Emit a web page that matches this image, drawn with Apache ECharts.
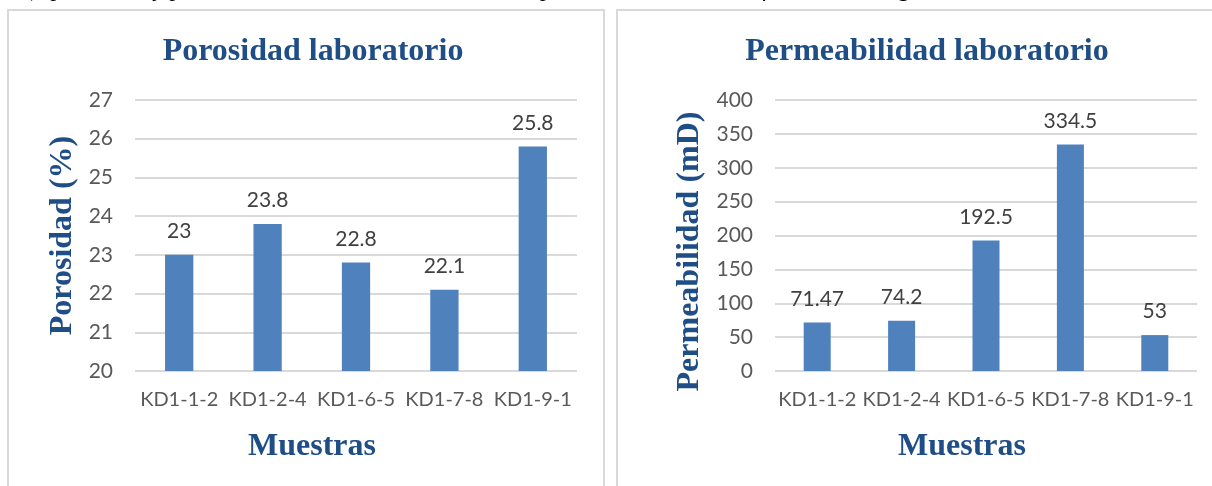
<!DOCTYPE html>
<html>
<head>
<meta charset="utf-8">
<script src="https://cdn.jsdelivr.net/npm/echarts@6/dist/echarts.min.js"></script>
<style>
html,body{margin:0;padding:0;background:#fff;}
#c{width:1212px;height:486px;}
</style>
</head>
<body>
<div id="c"></div>
<script>
const categories = ['KD1-1-2', 'KD1-2-4', 'KD1-6-5', 'KD1-7-8', 'KD1-9-1'];
const porosidad = [23, 23.8, 22.8, 22.1, 25.8];
const permeabilidad = [71.47, 74.2, 192.5, 334.5, 53];
const porosidadTitle = 'Porosidad laboratorio';
const permeabilidadTitle = 'Permeabilidad laboratorio';
const porosidadAxisName = 'Porosidad (%)';
const permeabilidadAxisName = 'Permeabilidad (mD)';
const xAxisName = 'Muestras';
const captionFragment = 'a), porosidad y permeabilidad de las muestras con respecto a los datos de la formación Magrosa.';

const navy = '#1F4E87';
const serif = '"Liberation Serif","Times New Roman",serif';
const sans = 'Lato, "Open Sans", sans-serif';
const barColor = '#4F81BD';

const chart = echarts.init(document.getElementById('c'), null, {renderer: 'canvas'});

function xAx(gi, nameShift) {
  return {
    type: 'category', gridIndex: gi, data: categories,
    axisLine: {show: false}, axisTick: {show: false},
    axisLabel: {color: '#595959', fontFamily: sans, fontSize: 20, margin: 19, interval: 0},
    name: xAxisName, nameLocation: 'middle', nameGap: 60,
    nameTextStyle: {color: navy, fontFamily: serif, fontWeight: 'bold', fontSize: 32,
      padding: [0, nameShift * 2, 0, 0]}
  };
}
function yAx(gi, min, max, interval, name, gap, shiftDown) {
  return {
    type: 'value', gridIndex: gi, min: min, max: max, interval: interval,
    axisLine: {show: false}, axisTick: {show: false},
    axisLabel: {color: '#595959', fontFamily: sans, fontSize: 21, margin: 22},
    splitLine: {lineStyle: {color: '#D9D9D9', width: 2}},
    name: name, nameLocation: 'middle', nameGap: gap,
    nameTextStyle: {color: navy, fontFamily: serif, fontWeight: 'bold', fontSize: 32,
      padding: [0, shiftDown * 2, 0, 0]}
  };
}
function barSeries(gi, data) {
  return {
    type: 'bar', xAxisIndex: gi, yAxisIndex: gi, data: data,
    barWidth: '32%',
    itemStyle: {color: barColor},
    label: {show: true, position: 'top', distance: 13, color: '#404040',
      fontFamily: sans, fontSize: 21},
    silent: true
  };
}

chart.setOption({
  animation: false,
  backgroundColor: '#fff',
  title: [
    {text: porosidadTitle, left: 308, top: 31, textAlign: 'center',
      textStyle: {color: navy, fontFamily: serif, fontWeight: 'bold', fontSize: 32}},
    {text: permeabilidadTitle, left: 922, top: 31, textAlign: 'center',
      textStyle: {color: navy, fontFamily: serif, fontWeight: 'bold', fontSize: 32}}
  ],
  grid: [
    {left: 135, right: 635, top: 100, bottom: 115},
    {left: 775, right: 15, top: 100, bottom: 115}
  ],
  xAxis: [xAx(0, 44), xAx(1, 24)],
  yAxis: [
    yAx(0, 20, 27, 1, porosidadAxisName, 56, 0),
    yAx(1, 0, 400, 50, permeabilidadAxisName, 69, 16)
  ],
  series: [barSeries(0, porosidad), barSeries(1, permeabilidad)],
  graphic: [
    {type: 'rect', shape: {x: 8, y: 10, width: 596, height: 500}, silent: true,
      style: {fill: 'none', stroke: '#D9D9D9', lineWidth: 2}},
    {type: 'rect', shape: {x: 617, y: 10, width: 600, height: 500}, silent: true,
      style: {fill: 'none', stroke: '#D9D9D9', lineWidth: 2}},
    {type: 'text', x: 20, y: 2, silent: true,
      style: {text: captionFragment, fill: '#000', verticalAlign: 'bottom',
        font: 'italic 24px "Liberation Serif", serif'}}
  ]
});
</script>
</body>
</html>
